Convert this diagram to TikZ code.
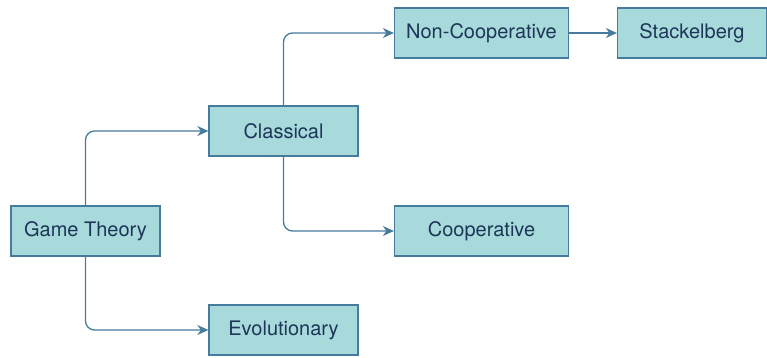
\documentclass[tikz,border=0pt]{standalone}
\usepackage{fontspec}
\setmainfont{TeX Gyre Heros}
\usetikzlibrary{arrows.meta}
\definecolor{boxfill}{HTML}{A8DADC}
\definecolor{boxline}{HTML}{457B9D}
\definecolor{boxtext}{HTML}{1D3557}
\begin{document}
\begin{tikzpicture}[x=1pt,y=-1pt,
  topic/.style={draw=boxline, fill=boxfill, text=boxtext, line width=1.3pt,
    minimum height=50pt, inner sep=0pt, font=\fontsize{20}{23}\selectfont},
  narrow/.style={topic, minimum width=149pt},
  wide/.style={topic, minimum width=174pt},
  link/.style={draw=boxline, line width=1.3pt, rounded corners=9pt,
    -{Stealth[length=11pt,width=10pt,inset=3.5pt]}}]
\useasboundingbox (0,0) rectangle (767,358);
\node[narrow] (gt)   at (85.5,231)  {Game Theory};
\node[narrow] (cls)  at (283.5,131) {Classical};
\node[narrow] (evo)  at (283.5,330) {Evolutionary};
\node[wide]   (ncp)  at (481.5,33)  {Non-Cooperative};
\node[wide]   (cop)  at (481.5,231) {Cooperative};
\node[narrow] (stk)  at (692,33)    {Stackelberg};
\draw[link] (gt.north) |- (cls.west);
\draw[link] (gt.south) |- (evo.west);
\draw[link] (cls.north) |- (ncp.west);
\draw[link] (cls.south) |- (cop.west);
\draw[link] (ncp.east) -- (stk.west);
\end{tikzpicture}
\end{document}
